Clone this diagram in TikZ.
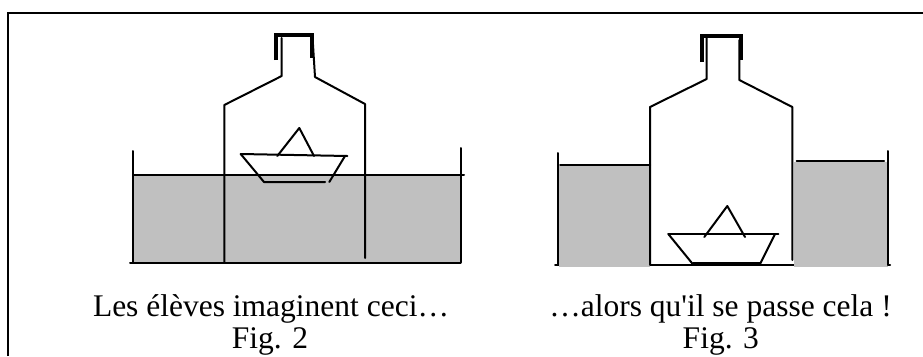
\documentclass[tikz,border=0pt]{standalone}
\usepackage{fontspec}
\setmainfont{Liberation Serif}[Ligatures=TeXOff]
\definecolor{water}{HTML}{C0C0C0}
\begin{document}
\begin{tikzpicture}[x=1pt,y=-1pt,
  thin line/.style={line width=2pt,line cap=round,line join=round},
  cap line/.style={line width=4pt,line join=miter},
  frame line/.style={line width=2.2pt},
  caption/.style={anchor=base,inner sep=0pt,font=\fontsize{31.5}{36}\selectfont}]
\useasboundingbox (0,0) rectangle (923,356);
\fill[white] (0,0) rectangle (923,356);

% outer frame (top and left edges)
\draw[frame line] (8.3,356) -- (8.3,13) -- (923,13);

% ---------- Fig. 2 : water level the same everywhere ----------
\fill[water] (133.3,175) rectangle (460.7,262);
\draw[thin line] (133.3,174.5) -- (464,174.5);
\draw[thin line] (133.3,151) -- (133.3,262.5);
\draw[thin line] (460.7,148) -- (460.7,262.5);
\draw[thin line] (130,262.5) -- (460.7,262.5);
% bottle
\draw[cap line] (275.7,60) -- (275.7,35) -- (312.3,35) -- (312.3,58);
\draw[thin line] (281.7,38) -- (281.7,76) -- (224.3,105) -- (224.3,262);
\draw[thin line] (312.7,40) -- (315,77) -- (365,104) -- (365,258);
% boat
\draw[thin line] (240.7,154) -- (347.3,156);
\draw[thin line] (240.7,154) -- (264,182) -- (325,182);
\draw[thin line] (329.3,182) -- (345,156);
\draw[thin line] (277.3,156) -- (299.3,128) -- (314,156);

% ---------- Fig. 3 : water pushed out of the bottle ----------
\draw[thin line] (555,265) -- (890,265);
\fill[water] (559,166) rectangle (650,266.5);
\fill[water] (794,162) rectangle (888,266.5);
\draw[thin line] (560,165) -- (650,165);
\draw[thin line] (796.7,161) -- (884,161);
\draw[thin line] (558.3,153) -- (558.3,265);
\draw[thin line] (888.3,151) -- (888.3,265);
% bottle
\draw[cap line] (701.7,62) -- (701.7,36) -- (741,36) -- (741,60);
\draw[thin line] (706.7,38) -- (706.7,79) -- (650,107) -- (650,265);
\draw[thin line] (739.3,40) -- (739.3,80) -- (792.3,107) -- (792.3,260);
% boat resting on the bottom
\draw[thin line] (668.3,234) -- (778.3,234);
\draw[thin line] (668.3,234) -- (692.7,264);
\draw[line width=3.5pt] (692.7,263.5) -- (760,263.5);
\draw[thin line] (760,264) -- (775,234);
\draw[thin line] (704.3,237) -- (727.3,206) -- (745,237);

% captions
\node[caption] (capA) at (271,316.7) {Les élèves imaginent ceci…};
\node[caption] (figA) at (270,348.3) {Fig. 2};
\node[caption] (capB) at (720.5,316.7) {…alors qu'il se passe cela !};
\node[caption] (figB) at (720.8,348.3) {Fig. 3};
\end{tikzpicture}
\end{document}
